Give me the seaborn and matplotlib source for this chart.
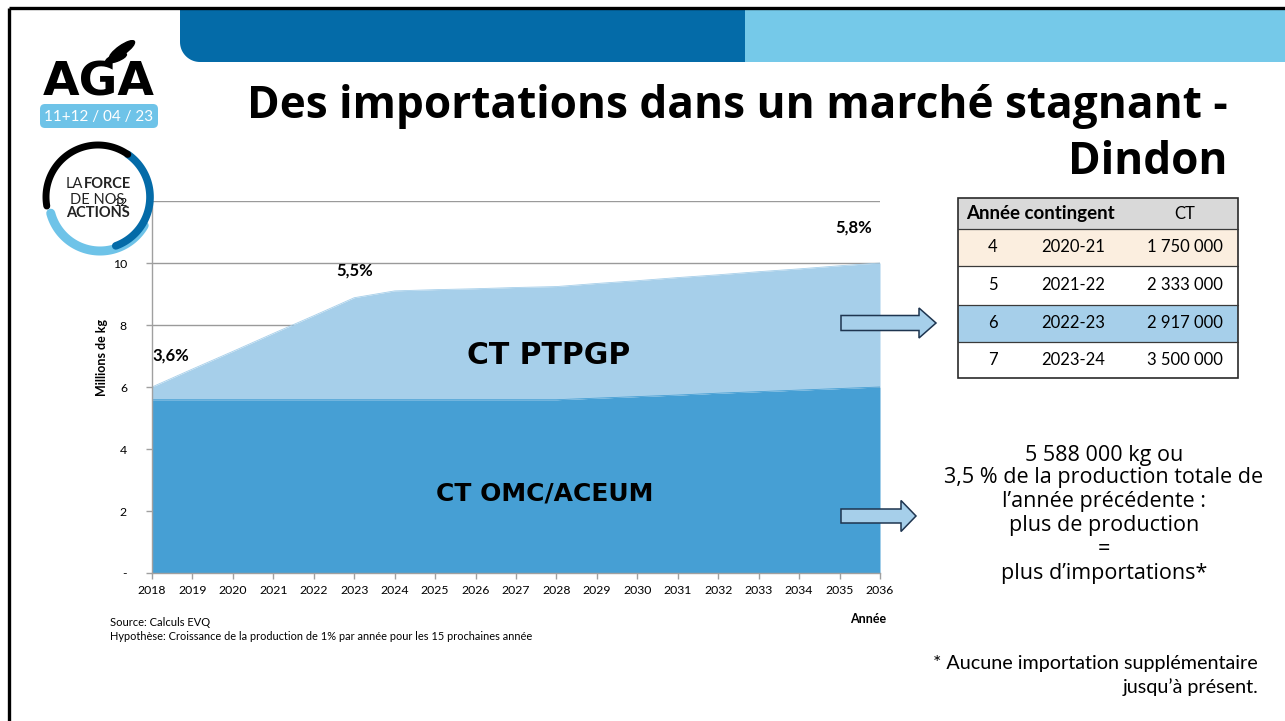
import numpy as np
import pandas as pd
import matplotlib
matplotlib.use("Agg")
import matplotlib.pyplot as plt
import seaborn as sns
from matplotlib.patches import Rectangle, Polygon, FancyBboxPatch, Ellipse

# ---------------- data ----------------
years = list(range(2018, 2037))
ct_omc = [5.59, 5.59, 5.59, 5.59, 5.59, 5.59, 5.59, 5.59, 5.59, 5.59, 5.59,
          5.64, 5.69, 5.74, 5.80, 5.85, 5.90, 5.95, 6.00]
ct_ptpgp = [0.41, 0.99, 1.56, 2.14, 2.71, 3.29, 3.51, 3.55, 3.58, 3.62, 3.65,
            3.70, 3.74, 3.79, 3.82, 3.87, 3.91, 3.96, 4.00]
y_ticks = [0, 2, 4, 6, 8, 10, 12]
y_tick_labels = ["-", "2", "4", "6", "8", "10", "12"]
pct_labels = ["3,6%", "5,5%", "5,8%"]

table_header = ["Année contingent", "CT"]
contingent_no = ["4", "5", "6", "7"]
contingent_year = ["2020-21", "2021-22", "2022-23", "2023-24"]
contingent_ct = ["1 750 000", "2 333 000", "2 917 000", "3 500 000"]

side_lines = ["5 588 000 kg ou", "3,5 % de la production totale de",
              "l\u2019année précédente :", "plus de production", "=",
              "plus d\u2019importations*"]
foot_lines = ["* Aucune importation supplémentaire", "jusqu\u2019à présent."]

# ---------------- style ----------------
sns.set_theme(style="white")
plt.rcParams["font.family"] = ["Lato", "DejaVu Sans"]
plt.rcParams["text.color"] = "black"
plt.rcParams["axes.labelcolor"] = "black"
plt.rcParams["xtick.color"] = "black"
plt.rcParams["ytick.color"] = "black"

W, H = 1285, 721
DARK_AREA = "#469FD4"
LIGHT_AREA = "#A6CFEA"
BAND_DARK = "#046BA8"
BAND_LIGHT = "#75C9E9"
BIG = ["DejaVu Sans"]
OPEN = ["Open Sans", "DejaVu Sans"]

fig = plt.figure(figsize=(W / 100, H / 100), dpi=100)
fig.patch.set_facecolor("white")

ax = fig.add_axes([152 / W, 1 - 573 / H, (880 - 152) / W, (573 - 201) / H])
ax.set_facecolor("white")

omc = np.array(ct_omc)
total = omc + np.array(ct_ptpgp)
df = pd.DataFrame({"Année": years, "omc": omc, "total": total})

ax.fill_between(df["Année"], 0, df["omc"], color=DARK_AREA, lw=0, zorder=2)
ax.fill_between(df["Année"], df["omc"], df["total"], color=LIGHT_AREA, lw=0, zorder=2)
sns.lineplot(data=df, x="Année", y="total", ax=ax, color=LIGHT_AREA, lw=0.6, zorder=3)
sns.lineplot(data=df, x="Année", y="omc", ax=ax, color=DARK_AREA, lw=0.6, zorder=3)

ax.set_xlim(2018, 2036)
ax.set_ylim(0, 12)
ax.set_xticks(years)
ax.set_xticklabels([str(y) for y in years])
ax.set_yticks(y_ticks)
ax.set_yticklabels(y_tick_labels)
ax.set_xlabel("")
ax.set_ylabel("")
ax.yaxis.grid(True, color="#9A9A9A", lw=1)
ax.set_axisbelow(True)
for s in ["top", "right"]:
    ax.spines[s].set_visible(False)
for s in ["left", "bottom"]:
    ax.spines[s].set_color("#A0A0A0")
    ax.spines[s].set_linewidth(1)
    ax.spines[s].set_zorder(4)
ax.tick_params(axis="x", bottom=True, length=4, width=1, color="#A0A0A0",
               pad=5, labelsize=8.8, labelcolor="black")
ax.tick_params(axis="y", left=True, length=4, width=1, color="#A0A0A0",
               pad=14, labelsize=8.8, labelcolor="black")

# labels in chart
ax.text(2018.02, 7.0, pct_labels[0], fontsize=12, fontweight="bold", ha="left", va="center", zorder=5)
ax.text(2023.0, 9.75, pct_labels[1], fontsize=12, fontweight="bold", ha="center", va="center", zorder=5)
ax.text(2035.35, 11.15, pct_labels[2], fontsize=12, fontweight="bold", ha="center", va="center", zorder=5)
ax.text(2027.8, 7.0, "CT PTPGP", fontsize=21.5, fontweight="bold", family=BIG,
        ha="center", va="center", zorder=5)
ax.text(2027.7, 2.57, "CT OMC/ACEUM", fontsize=18, fontweight="bold", family=BIG,
        ha="center", va="center", zorder=5)

# ---------------- decoration overlay in pixel coords ----------------
d = fig.add_axes([0, 0, 1, 1], zorder=10)
d.set_xlim(0, W)
d.set_ylim(H, 0)
d.axis("off")
d.patch.set_alpha(0)

# slide border
d.plot([9, 9], [8, H], color="black", lw=2.4, solid_capstyle="butt")
d.plot([9, W], [8, 8], color="black", lw=2.4, solid_capstyle="butt")

# header bands
t = np.linspace(0, np.pi / 2, 20)
arc = [(200 - 20 * np.sin(a), 42 + 20 * np.cos(a)) for a in t]
d.add_patch(Polygon([(180, 10), (745, 10), (745, 62)] + arc, closed=True,
                    facecolor=BAND_DARK, edgecolor="none"))
d.add_patch(Rectangle((745, 10), W - 745, 52, facecolor=BAND_LIGHT, edgecolor="none"))

# title
d.text(1228, 118, "Des importations dans un marché stagnant -", fontsize=31.8,
       fontweight="bold", family=OPEN, ha="right", va="baseline", color="black")
d.text(1228, 174, "Dindon", fontsize=31.8, fontweight="bold", family=OPEN,
       ha="right", va="baseline", color="black")

# AGA logo
d.text(99, 83, "AGA", fontsize=34, fontweight="bold", family=BIG, ha="center",
       va="center", color="black")
d.add_patch(Ellipse((122, 50), 30, 9, angle=-35, color="black"))
d.add_patch(Ellipse((116, 58), 22, 7, angle=-20, color="black"))
d.add_patch(FancyBboxPatch((40, 104), 118, 24, boxstyle="round,pad=0,rounding_size=5",
                           facecolor="#6EC3E8", edgecolor="none"))
d.text(99, 116.5, "11+12 / 04 / 23", fontsize=11, color="white",
       ha="center", va="center")

# circle logo
cx, cy, r = 98, 197, 52
def ring(a0, a1, color, lw, rr=r, dx=0, dy=0):
    a = np.radians(np.linspace(a0, a1, 80))
    d.plot(cx + dx + rr * np.cos(a), cy + dy - rr * np.sin(a), color=color, lw=lw,
           solid_capstyle="round")
ring(195, 330, "#6EC3E8", 6.5, rr=51, dx=2, dy=3)
ring(-70, 55, BAND_DARK, 5.5)
ring(55, 190, "black", 5.0)
d.text(66, 184, "LA", fontsize=10.5, ha="left", va="center", color="#222222")
d.text(131, 184, "FORCE", fontsize=10.5, fontweight="bold", ha="right", va="center", color="#222222")
d.text(97, 200, "DE NOS", fontsize=10.5, ha="center", va="center", color="#222222")
d.text(98, 213, "ACTIONS", fontsize=10.5, fontweight="bold", ha="center", va="center", color="#222222")

# chart axis titles and notes
d.text(102, 357, "Millions de kg", fontsize=9, fontweight="bold", rotation=90,
       ha="center", va="center")
d.text(868, 619, "Année", fontsize=9, fontweight="bold", ha="center", va="center")
d.text(110, 622, "Source: Calculs EVQ", fontsize=8, ha="left", va="center")
d.text(110, 637, "Hypothèse: Croissance de la production de 1% par année pour les 15 prochaines année",
       fontsize=7.9, ha="left", va="center")

# block arrows
def block_arrow(x0, x1, xt, yc, bh, hh):
    pts = [(x0, yc - bh / 2), (x1, yc - bh / 2), (x1, yc - hh / 2), (xt, yc),
           (x1, yc + hh / 2), (x1, yc + bh / 2), (x0, yc + bh / 2)]
    d.add_patch(Polygon(pts, closed=True, facecolor=LIGHT_AREA, edgecolor="#1E3550", lw=1.1))
block_arrow(841, 919, 936, 323, 15, 30)
block_arrow(841, 901, 916, 516, 14, 31)

# table
row_y = [198, 229, 266, 305, 342, 378]
row_colors = ["#D9D9D9", "#FBEEDF", "white", LIGHT_AREA, "white"]
tx0, tx1 = 958, 1238
for i, c in enumerate(row_colors):
    d.add_patch(Rectangle((tx0, row_y[i]), tx1 - tx0, row_y[i + 1] - row_y[i],
                          facecolor=c, edgecolor="none"))
for yv in row_y[1:-1]:
    d.plot([tx0, tx1], [yv, yv], color="#3A3A3A", lw=0.9)
d.add_patch(Rectangle((tx0, row_y[0]), tx1 - tx0, row_y[-1] - row_y[0],
                      facecolor="none", edgecolor="#2A2A2A", lw=1.2))
d.text(1040, 214, table_header[0], fontsize=13.5, fontweight="bold", ha="center", va="center")
d.text(1185, 214, table_header[1], fontsize=12, ha="center", va="center")
for i in range(4):
    yc = (row_y[i + 1] + row_y[i + 2]) / 2
    d.text(993, yc, contingent_no[i], fontsize=12, ha="center", va="center")
    d.text(1073, yc, contingent_year[i], fontsize=12, ha="center", va="center")
    d.text(1185, yc, contingent_ct[i], fontsize=12, ha="center", va="center")

# side text
side_y = [455, 478, 501, 525, 549, 573]
for s, yv in zip(side_lines, side_y):
    d.text(1104, yv, s, fontsize=15.5, family=OPEN, ha="center", va="center", color="black")
d.text(1258, 664, foot_lines[0], fontsize=14.2, ha="right", va="center")
d.text(1258, 687, foot_lines[1], fontsize=14.2, ha="right", va="center")

fig.savefig("out.png", dpi=100, facecolor="white")
